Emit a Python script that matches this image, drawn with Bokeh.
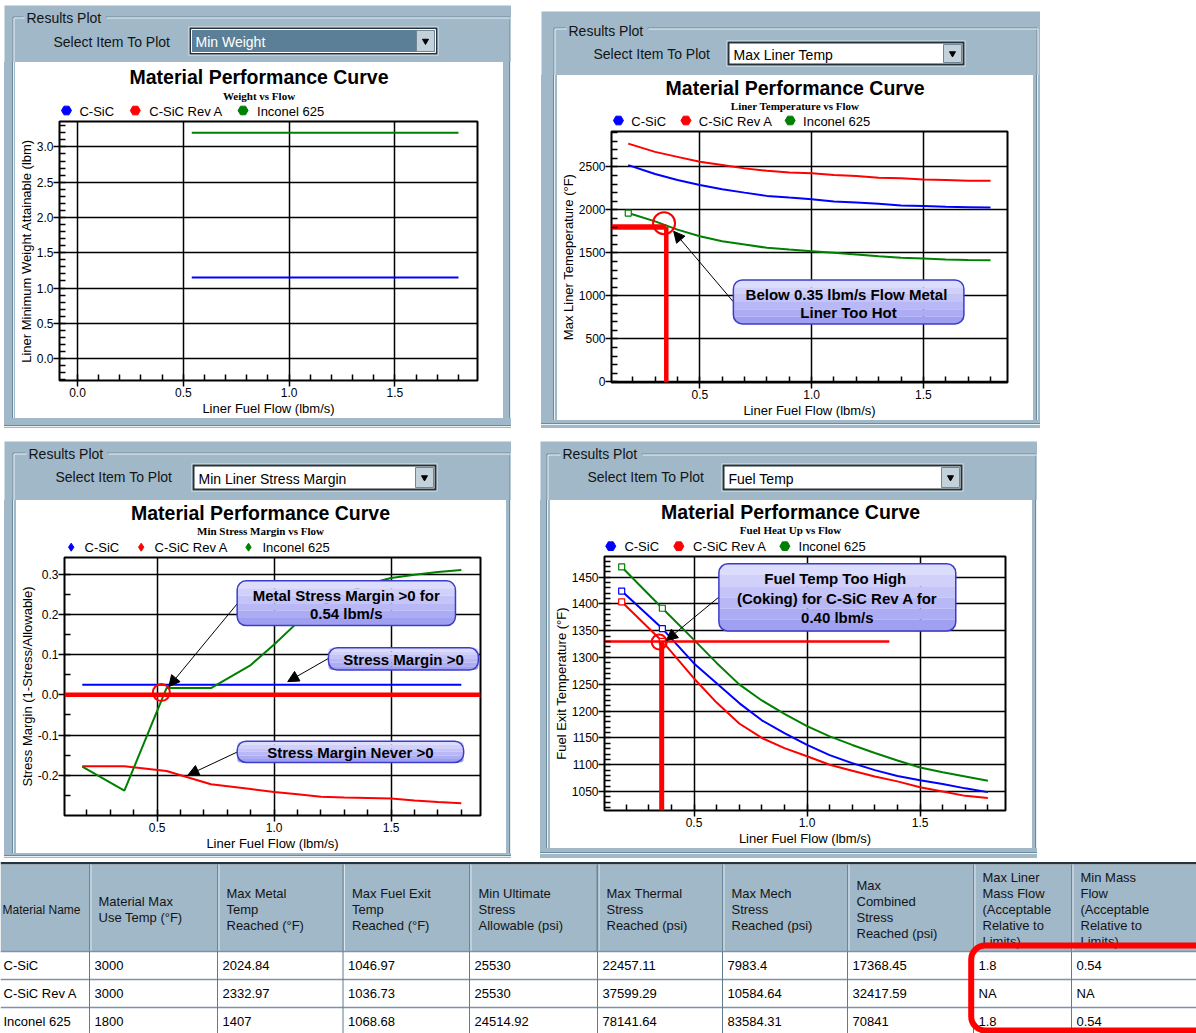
from bokeh.plotting import figure
from bokeh.layouts import row, column
from bokeh.models import (Range1d, Spacer, SingleIntervalTicker, PrintfTickFormatter, Span, Arrow,
                          NormalHead, BoxAnnotation, Label)
from bokeh.core.properties import value
from bokeh.embed import file_html
from bokeh.resources import INLINE

# ------------------------------------------------------------------ data
series_names = ["C-SiC", "C-SiC Rev A", "Inconel 625"]
series_colors = ["#0000ff", "#ff0000", "#008000"]
chart_title = "Material Performance Curve"
x_label = "Liner Fuel Flow (lbm/s)"

# Min Weight vs flow
weight_flow = [0.54, 1.8]
weight_csic = [1.15, 1.15]
weight_inconel = [3.2, 3.2]

# Max liner temperature vs flow
liner_flow = [0.18, 0.3, 0.4, 0.5, 0.6, 0.7, 0.8, 0.9, 1.0, 1.1, 1.2, 1.3, 1.4, 1.5, 1.6, 1.7, 1.8]
liner_temp_csic = [2521, 2417, 2348, 2290, 2240, 2201, 2163, 2143, 2125, 2097, 2086, 2071, 2051, 2044, 2036, 2032, 2028]
liner_temp_reva = [2771, 2675, 2617, 2559, 2521, 2483, 2455, 2436, 2425, 2405, 2394, 2374, 2367, 2355, 2348, 2340, 2338]
liner_temp_inconel = [1963, 1866, 1770, 1693, 1635, 1597, 1559, 1539, 1520, 1501, 1482, 1462, 1443, 1435, 1424, 1416, 1414]
liner_limit_flow = 0.35
liner_limit_temp = 1800
liner_mark = (0.34, 1845)

# Min stress margin vs flow
stress_flow = [0.18, 0.36, 0.54, 0.73, 0.9, 1.0, 1.1, 1.2, 1.3, 1.4, 1.5, 1.6, 1.7, 1.8]
margin_csic = [0.025, 0.025, 0.025, 0.025, 0.025, 0.025, 0.025, 0.025, 0.025, 0.025, 0.025, 0.025, 0.025, 0.025]
margin_reva = [-0.177, -0.177, -0.189, -0.222, -0.234, -0.241, -0.247, -0.253, -0.255, -0.256, -0.257, -0.262, -0.266, -0.269]
margin_inconel = [-0.178, -0.238, 0.017, 0.017, 0.074, 0.125, 0.18, 0.22, 0.25, 0.275, 0.29, 0.298, 0.305, 0.31]
margin_limit = 0.0
margin_mark = (0.518, 0.006)

# Fuel exit temperature vs flow
fuel_flow = [0.18, 0.36, 0.5, 0.6, 0.7, 0.8, 0.9, 1.0, 1.1, 1.2, 1.3, 1.4, 1.5, 1.6, 1.7, 1.8]
fuel_temp_csic = [1424, 1354, 1289, 1252, 1215, 1183, 1159, 1137, 1118, 1103, 1090, 1079, 1071, 1064, 1056, 1049]
fuel_temp_reva = [1404, 1330, 1261, 1216, 1177, 1150, 1131, 1116, 1100, 1089, 1078, 1069, 1058, 1050, 1042, 1038]
fuel_temp_inconel = [1469, 1392, 1333, 1290, 1250, 1220, 1195, 1172, 1153, 1137, 1122, 1108, 1095, 1086, 1078, 1070]
coking_flow = 0.357
coking_temp = 1330
coking_line_end = 1.364
coking_mark = (0.346, 1329)

# results table
table_headers = [
    ["Material Name"],
    ["Material Max", "Use Temp (°F)"],
    ["Max Metal", "Temp", "Reached (°F)"],
    ["Max Fuel Exit", "Temp", "Reached (°F)"],
    ["Min Ultimate", "Stress", "Allowable (psi)"],
    ["Max Thermal", "Stress", "Reached (psi)"],
    ["Max Mech", "Stress", "Reached (psi)"],
    ["Max", "Combined", "Stress", "Reached (psi)"],
    ["Max Liner", "Mass Flow", "(Acceptable", "Relative to", "Limits)"],
    ["Min Mass", "Flow", "(Acceptable", "Relative to", "Limits)"],
]
material_names = ["C-SiC", "C-SiC Rev A", "Inconel 625"]
max_use_temp = ["3000", "3000", "1800"]
max_metal_temp = ["2024.84", "2332.97", "1407"]
max_fuel_exit_temp = ["1046.97", "1036.73", "1068.68"]
min_ultimate_stress = ["25530", "25530", "24514.92"]
max_thermal_stress = ["22457.11", "37599.29", "78141.64"]
max_mech_stress = ["7983.4", "10584.64", "83584.31"]
max_combined_stress = ["17368.45", "32417.59", "70841"]
max_liner_mass_flow = ["1.8", "NA", "1.8"]
min_mass_flow = ["0.54", "NA", "0.54"]

# ------------------------------------------------------------------ style
FONT = "Liberation Sans"
BG = "#a0b8c8"
GB_DARK = "#6d8a9c"
GB_LIGHT = "#e9f0f4"
CALLOUT_BANDS = ["#dcdcfc", "#d0d0fa", "#c4c4f8", "#b8b8f6", "#acacf4", "#a0a0f2"]
CALLOUT_LINE = "#3c3cc8"


def vstrip(width, height, line_x):
    a, b, c = line_x, line_x + 1, line_x + 2
    bg = (f"linear-gradient(to right, {BG} 0px, {BG} {a}px, {GB_DARK} {a}px, {GB_DARK} {b}px, "
          f"{GB_LIGHT} {b}px, {GB_LIGHT} {c}px, {BG} {c}px, {BG} 100%)")
    return Spacer(width=width, height=height, styles={"background": bg})


def hstrip(width, height, line_y):
    a, b, c = line_y, line_y + 1, line_y + 2
    bg = (f"linear-gradient(to bottom, {BG} 0px, {BG} {a}px, {GB_DARK} {a}px, {GB_DARK} {b}px, "
          f"{GB_LIGHT} {b}px, {GB_LIGHT} {c}px, {BG} {c}px, {BG} 100%)")
    return Spacer(width=width, height=height, styles={"background": bg})


def pixel_fig(w, h, fill, x0=0, x1=None):
    return figure(width=w, height=h, x_range=Range1d(x0, w if x1 is None else x1),
                  y_range=Range1d(h, 0), toolbar_location=None, output_backend="svg",
                  x_axis_type=None, y_axis_type=None, min_border=0,
                  background_fill_color=fill, border_fill_color=fill, outline_line_color=None)


def make_header(w, h, gb_top, gb_left, gb_right, rp, sel, dd, dd_text, highlighted):
    p = pixel_fig(w, h, BG)
    cap_w = 76
    gy = gb_top + 0.5
    x0s = [gb_left + 0.5, rp[0] + cap_w + 3, gb_left + 0.5, gb_right + 0.5]
    y0s = [gy, gy, gy, gy]
    x1s = [rp[0] - 3, gb_right + 0.5, gb_left + 0.5, gb_right + 0.5]
    y1s = [gy, gy, h, h]
    p.segment(x0=x0s, y0=y0s, x1=x1s, y1=y1s, line_color=GB_DARK, line_width=1)
    p.segment(x0=[v + 1 for v in x0s], y0=[v + 1 for v in y0s],
              x1=[v + 1 for v in x1s], y1=[v + 1 if i < 2 else v for i, v in enumerate(y1s)],
              line_color=GB_LIGHT, line_width=1)
    p.text(x=[rp[0], sel[0]], y=[rp[1], sel[1]], text=["Results Plot", "Select Item To Plot"],
           text_font=value(FONT), text_font_size="14px", text_baseline="middle",
           text_color="#141414")
    x0, x1, y0, y1 = dd
    p.quad(left=[x0 - 1], right=[x1 + 1], top=[y0 - 1], bottom=[y1 + 1], fill_color="#dfe8ee",
           line_color=None)
    p.quad(left=[x0], right=[x1], top=[y0], bottom=[y1], fill_color="#25323b", line_color=None)
    field = "#5a7f97" if highlighted else "white"
    p.quad(left=[x0 + 2], right=[x1 - 2], top=[y0 + 2], bottom=[y1 - 2], fill_color=field,
           line_color="white" if highlighted else None, line_width=1)
    p.quad(left=[x1 - 21], right=[x1 - 3], top=[y0 + 3], bottom=[y1 - 3], fill_color="#c3d1db",
           line_color="#6f8799", line_width=1)
    p.scatter(x=[x1 - 12], y=[(y0 + y1) / 2], marker="inverted_triangle", size=6, color="black")
    p.text(x=[x0 + 6], y=[(y0 + y1) / 2 + 1], text=[dd_text], text_font=value(FONT),
           text_font_size="14px", text_baseline="middle",
           text_color="white" if highlighted else "black")
    return p


def make_title_fig(w, th, frame_lr, xc, y_title, y_sub, subtitle, marker_xs, label_xs, leg_y,
                   marker, msize):
    # this figure sits in a column with the chart, so Bokeh aligns its frame with the
    # chart frame; the x range is set so that x equals the pixel column of the canvas
    p = pixel_fig(w, th, "white", frame_lr[0], w - frame_lr[1])
    p.text(x=[xc], y=[y_title], text=[chart_title], text_align="center", text_baseline="middle",
           text_font=value(FONT), text_font_size="19.5px", text_font_style="bold",
           text_color="black")
    p.text(x=[xc], y=[y_sub], text=[subtitle], text_align="center", text_baseline="middle",
           text_font=value("Liberation Serif"), text_font_size="11px", text_font_style="bold",
           text_color="black")
    # legend: series markers + names
    p.scatter(x=marker_xs, y=[leg_y] * len(marker_xs), marker=marker, size=msize,
              color=series_colors)
    p.text(x=label_xs, y=[leg_y + 0.5] * len(label_xs), text=series_names, text_baseline="middle",
           text_font=value(FONT), text_font_size="13px", text_color="black")
    return p


def make_chart(w, h, borders, xr, yr, y_interval, y_minor, y_fmt, y_label):
    mbl, mbr, mbt, mbb = borders
    p = figure(width=w, height=h, x_range=Range1d(*xr), y_range=Range1d(*yr),
               toolbar_location=None, output_backend="svg", title=None,
               min_border_left=mbl, min_border_right=mbr, min_border_top=mbt,
               min_border_bottom=mbb, background_fill_color="white",
               border_fill_color="white", outline_line_color="black", outline_line_width=2)
    xt = SingleIntervalTicker(interval=0.5, num_minor_ticks=5)
    yt = SingleIntervalTicker(interval=y_interval, num_minor_ticks=y_minor)
    p.xaxis.ticker = xt
    p.xgrid.ticker = xt
    p.yaxis.ticker = yt
    p.ygrid.ticker = yt
    p.xaxis.formatter = PrintfTickFormatter(format="%.1f")
    p.yaxis.formatter = PrintfTickFormatter(format=y_fmt)
    p.xaxis.axis_label = x_label
    p.yaxis.axis_label = y_label
    for ax in (p.xaxis[0], p.yaxis[0]):
        ax.axis_line_color = None
        ax.major_tick_out = 6
        ax.major_tick_in = 0
        ax.minor_tick_in = 6
        ax.minor_tick_out = 0
        ax.major_tick_line_color = "black"
        ax.minor_tick_line_color = "black"
        ax.major_tick_line_width = 1.5
        ax.minor_tick_line_width = 1.5
        ax.major_label_text_font = FONT
        ax.major_label_text_font_size = "12px"
        ax.major_label_text_color = "black"
        ax.major_label_standoff = 1
        ax.axis_label_text_font = FONT
        ax.axis_label_text_font_size = "13px"
        ax.axis_label_text_font_style = "normal"
        ax.axis_label_text_color = "black"
        ax.axis_label_standoff = 1
    p.yaxis[0].axis_label_standoff = 0
    p.yaxis[0].major_label_standoff = 0
    p.grid.grid_line_color = "black"
    p.grid.grid_line_width = 1.5
    return p


def add_lines(p, xs, ys_list):
    for ys, col in zip(ys_list, series_colors):
        if ys is None:
            continue
        p.line(x=xs, y=ys, line_color=col, line_width=2)


def add_callout(p, box, lines, xc, ys):
    left, right, top, bottom = box
    n = len(CALLOUT_BANDS)
    step = (bottom - top) / n
    for i, colr in enumerate(CALLOUT_BANDS):
        rad = (9, 9, 0, 0) if i == 0 else ((0, 0, 9, 9) if i == n - 1 else 0)
        p.add_layout(BoxAnnotation(left=left, right=right, top=top + i * step,
                                   bottom=top + (i + 1) * step, fill_color=colr, fill_alpha=1.0,
                                   line_alpha=0, border_radius=rad))
    p.add_layout(BoxAnnotation(left=left, right=right, top=top, bottom=bottom,
                               fill_alpha=0, line_color=CALLOUT_LINE, line_alpha=1.0,
                               line_width=1.5, border_radius=9))
    for txt, y in zip(lines, ys):
        p.add_layout(Label(x=xc, y=y, text=txt, text_align="center", text_baseline="middle",
                           text_font=FONT, text_font_size="15px", text_font_style="bold",
                           text_color="black"))


def add_arrow(p, start, end):
    p.add_layout(Arrow(end=NormalHead(size=11, fill_color="black", line_color="black"),
                       x_start=start[0], y_start=start[1], x_end=end[0], y_end=end[1],
                       line_color="black", line_width=1))


def build_panel(W, head_h, title_fig, chart, left_w, chart_w, chart_h, bottom_h, gb, hdr_args):
    gb_top, gb_left, gb_right, gb_bottom = gb
    hdr = make_header(W, head_h, gb_top, gb_left, gb_right, *hdr_args)
    right_w = W - left_w - chart_w
    mid = row(vstrip(left_w, chart_h, gb_left), column(title_fig, chart),
              vstrip(right_w, chart_h, gb_right - left_w - chart_w))
    bot = hstrip(W, bottom_h, gb_bottom)
    return column(hdr, mid, bot)


# ------------------------------------------------------------------ panel 1: Min Weight
t1 = make_title_fig(488, 58, (43, 26), 243, 14, 33, "Weight vs Flow", [50, 119, 227],
                    [63, 133, 241], 48, "hex", 10)
c1 = make_chart(488, 298, (43, 26, 1, 36), (-0.085, 1.89), (-0.31, 3.36), 0.5, 5, "%.1f",
                "Liner Minimum Weight Attainable (lbm)")
add_lines(c1, weight_flow, [weight_csic, None, weight_inconel])
panel1 = build_panel(507, 57, t1, c1, 11, 488, 356, 10, (11, 8, 505, 7),
                     ((22, 12), (49, 36), (185, 433, 22, 49), "Min Weight", True))

# ------------------------------------------------------------------ panel 2: Max Liner Temp
t2 = make_title_fig(476, 55, (51, 26), 236, 12, 30, "Liner Temperature vs Flow", [58, 126, 231],
                    [71, 139, 244], 45, "hex", 10)
c2 = make_chart(476, 290, (51, 26, 1, 36), (0.105, 1.876), (-8, 2912), 500, 5, "%d",
                "Max Liner Temeperature (°F)")
add_lines(c2, liner_flow, [liner_temp_csic, liner_temp_reva, liner_temp_inconel])
c2.scatter(x=liner_flow[:1], y=liner_temp_inconel[:1], marker="square", size=6,
           fill_color="white", line_color=series_colors[2], line_width=1.2)
c2.line(x=[0.105, liner_limit_flow], y=[liner_limit_temp, liner_limit_temp], line_color="red",
        line_width=5.5)
c2.line(x=[liner_limit_flow, liner_limit_flow], y=[-8, liner_limit_temp], line_color="red",
        line_width=4.5)
c2.scatter(x=[liner_mark[0]], y=[liner_mark[1]], marker="circle", size=22, fill_color=None,
           line_color="red", line_width=2)
add_arrow(c2, (0.65, 931), (0.383, 1751))
add_callout(c2, (0.65, 1.681, 1185, 673), ["Below 0.35 lbm/s Flow  Metal", "Liner Too Hot"],
            1.165, [1020, 808])
panel2 = build_panel(499, 64, t2, c2, 16, 476, 345, 8, (16, 12, 495, 3),
                     ((27, 19), (52, 42), (186, 423, 30, 54), "Max Liner Temp", False))

# ------------------------------------------------------------------ panel 3: Stress margin
t3 = make_title_fig(490, 56, (48, 26), 244, 12, 30, "Min Stress Margin vs Flow",
                    [54.7, 124.7, 232], [68, 138, 246], 46.7, "diamond", 8)
c3 = make_chart(490, 297, (48, 26, 1, 36), (0.104, 1.882), (-0.2995, 0.341), 0.1, 2, "%.1f",
                "Stress Margin (1-Stress/Allowable)")
c3.add_layout(Span(location=margin_limit, dimension="width", line_color="red", line_width=4.5))
add_lines(c3, stress_flow, [margin_csic, margin_reva, margin_inconel])
c3.scatter(x=[margin_mark[0]], y=[margin_mark[1]], marker="circle", size=17, fill_color=None,
           line_color="red", line_width=2)
add_arrow(c3, (0.842, 0.226), (0.55, 0.0204))
add_arrow(c3, (1.232, 0.0904), (1.058, 0.0328))
add_arrow(c3, (0.842, -0.142), (0.631, -0.1995))
add_callout(c3, (0.842, 1.775, 0.283, 0.172), ["Metal Stress Margin >0 for", "0.54 lbm/s"],
            1.308, [0.246, 0.201])
add_callout(c3, (1.232, 1.873, 0.117, 0.0616), ["Stress Margin >0"], 1.553, [0.088])
add_callout(c3, (0.842, 1.81, -0.115, -0.168), ["Stress Margin Never >0"], 1.326, [-0.1437])
panel3 = build_panel(507, 59, t3, c3, 12, 490, 353, 5, (11, 8, 505, 2),
                     ((24, 12), (51, 35), (188, 432, 23, 49), "Min Liner Stress Margin", False))

# ------------------------------------------------------------------ panel 4: Fuel temp
t4 = make_title_fig(482, 55, (52, 27), 239, 11, 29, "Fuel Heat Up vs Flow",
                    [58.3, 126.7, 233.3], [72, 141, 247], 45.7, "hex", 10)
c4 = make_chart(482, 293, (52, 27, 1, 37), (0.104, 1.878), (1014.7, 1488.5), 50, 5, "%d",
                "Fuel Exit Temperature (°F)")
add_lines(c4, fuel_flow, [fuel_temp_csic, fuel_temp_reva, fuel_temp_inconel])
for ys, col in zip([fuel_temp_csic, fuel_temp_reva, fuel_temp_inconel], series_colors):
    c4.scatter(x=fuel_flow[:2], y=ys[:2], marker="square", size=6, fill_color="white",
               line_color=col, line_width=1.2)
c4.line(x=[0.104, coking_line_end], y=[coking_temp, coking_temp], line_color="red",
        line_width=2.5)
c4.line(x=[coking_flow, coking_flow], y=[1014.7, coking_temp], line_color="red", line_width=5)
c4.scatter(x=[coking_mark[0]], y=[coking_mark[1]], marker="circle", size=15, fill_color=None,
           line_color="red", line_width=2)
add_arrow(c4, (0.61, 1412.8), (0.378, 1332))
add_callout(c4, (0.61, 1.658, 1475, 1349.5),
            ["Fuel Temp Too  High", "(Coking) for C-SiC Rev A for", "0.40 lbm/s"],
            1.134, [1447, 1410, 1374])
panel4 = build_panel(497, 59, t4, c4, 10, 482, 348, 10, (12, 6, 495, 4),
                     ((22, 12), (47, 35), (182, 422, 23, 49), "Fuel Temp", False))

# ------------------------------------------------------------------ results table
t = figure(width=1196, height=175, x_range=Range1d(0, 1196), y_range=Range1d(1033, 858),
           toolbar_location=None, output_backend="svg", x_axis_type=None, y_axis_type=None,
           min_border=0, background_fill_color="white", border_fill_color="white",
           outline_line_color=None)
col_edges = [0, 89, 217, 342.5, 469, 597, 722, 847, 973, 1071, 1230]
head_top, head_bot = 864, 951
row_edges = [951, 979, 1007, 1035]
t.quad(left=[0], right=[1196], top=[861.5], bottom=[head_top], fill_color="#24333d",
       line_color=None)
t.quad(left=[0], right=[1196], top=[head_top], bottom=[head_bot], fill_color=BG, line_color=None)
hx, hy, ht = [], [], []
for j, lines in enumerate(table_headers[1:], start=1):
    n = len(lines)
    for i, txt in enumerate(lines):
        hx.append(col_edges[j] + 9)
        hy.append(909 + (i - (n - 1) / 2) * 16)
        ht.append(txt)
t.text(x=hx, y=hy, text=ht, text_font=value(FONT), text_font_size="13px",
       text_baseline="middle", text_color="#151515")
t.text(x=[2], y=[909], text=table_headers[0], text_font=value(FONT), text_font_size="12px",
       text_baseline="middle", text_color="#151515")
edges_in = col_edges[1:-1]
t.segment(x0=edges_in, y0=[head_top] * len(edges_in), x1=edges_in, y1=[head_bot] * len(edges_in),
          line_color="#6a8698", line_width=[1, 1, 1, 1, 2, 1, 1, 1, 1])
t.segment(x0=[e + 1.5 for e in edges_in], y0=[head_top] * len(edges_in),
          x1=[e + 1.5 for e in edges_in], y1=[head_bot] * len(edges_in),
          line_color="#dde7ee", line_width=1)
t.quad(left=[0], right=[1196], top=[head_bot], bottom=[1040], fill_color="white",
       line_color=None)
t.segment(x0=[0] * 4, y0=row_edges, x1=[1196] * 4, y1=row_edges, line_color="#7b95a6",
          line_width=1.5)
t.segment(x0=edges_in, y0=[head_bot] * len(edges_in), x1=edges_in, y1=[1040] * len(edges_in),
          line_color="#5f7b8d", line_width=1)
columns = [material_names, max_use_temp, max_metal_temp, max_fuel_exit_temp, min_ultimate_stress,
           max_thermal_stress, max_mech_stress, max_combined_stress, max_liner_mass_flow,
           min_mass_flow]
dx, dy, dt = [], [], []
for j, vals in enumerate(columns):
    for i, v in enumerate(vals):
        dx.append(col_edges[j] + 5 if j > 0 else 3)
        dy.append((row_edges[i] + row_edges[i + 1]) / 2 - 0.5)
        dt.append(v)
t.text(x=dx, y=dy, text=dt, text_font=value(FONT), text_font_size="13px",
       text_baseline="middle", text_color="black")
t.add_layout(BoxAnnotation(left=970.7, right=1215, top=945, bottom=1030, fill_alpha=0,
                           line_color="#ff0000", line_alpha=1.0, line_width=6,
                           border_radius=14))

# ------------------------------------------------------------------ layout
top_band = row(Spacer(width=4, height=423), panel1, Spacer(width=30, height=423),
               column(Spacer(width=499, height=6), panel2))
bottom_band = row(Spacer(width=4, height=417), panel3, Spacer(width=29, height=417), panel4)
layout = column(Spacer(width=1196, height=5), top_band, Spacer(width=1196, height=13),
                bottom_band, t)

open("out.html", "w").write(file_html(layout, INLINE))
